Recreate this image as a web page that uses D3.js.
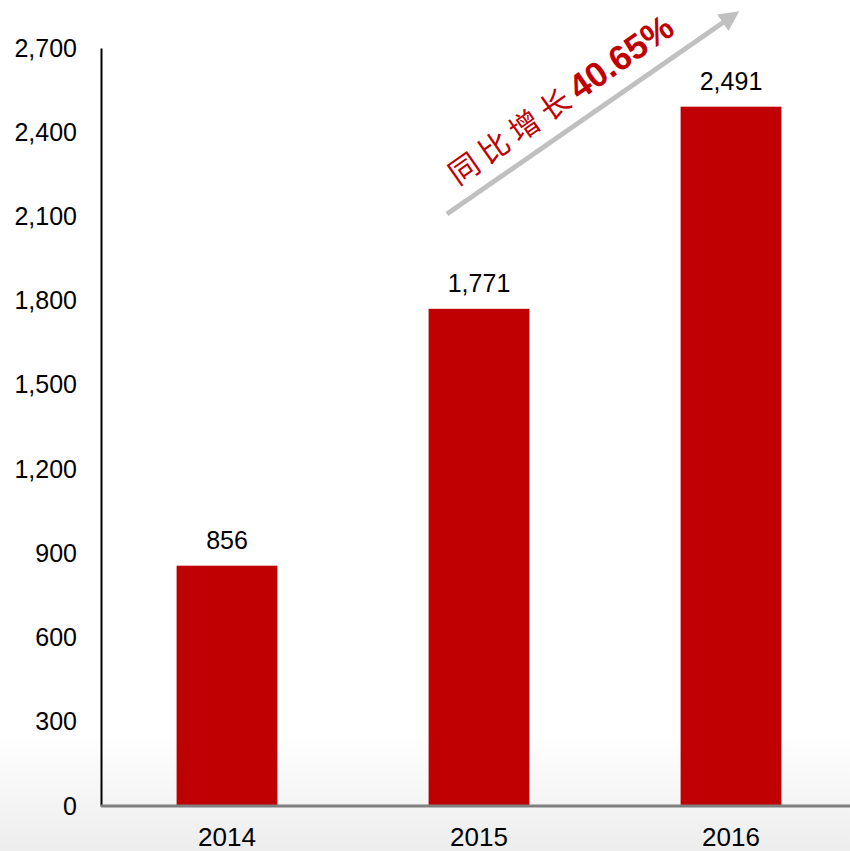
<!DOCTYPE html>
<html><head><meta charset="utf-8">
<script src="https://cdn.jsdelivr.net/npm/d3@7"></script>
<style>html,body{margin:0;padding:0;background:#fff;}svg{display:block;}</style>
</head><body>
<svg id="chart" width="850" height="851"></svg>
<script>
const categories = ["2014", "2015", "2016"];
const values = [856, 1771, 2491];
const yTicks = [0, 300, 600, 900, 1200, 1500, 1800, 2100, 2400, 2700];
const annotationCn = "同比增长";
const annotationNum = "40.65%";

const svg = d3.select("#chart");
const W = 850, H = 851;
const defs = svg.append("defs");
const grad = defs.append("linearGradient").attr("id","bg").attr("x1",0).attr("x2",0).attr("y1",0).attr("y2",1);
grad.append("stop").attr("offset","0%").attr("stop-color","#ffffff");
grad.append("stop").attr("offset","86%").attr("stop-color","#ffffff");
grad.append("stop").attr("offset","100%").attr("stop-color","#ededed");
svg.append("rect").attr("width",W).attr("height",H).attr("fill","url(#bg)");

const x0 = 101, y0 = 806, yTop = 48;
const y = d3.scaleLinear().domain([0, 2700]).range([y0, yTop]);
const x = d3.scaleBand().domain(categories).range([x0, x0 + 756]).paddingInner(0.6).paddingOuter(0.3);

const font = "'Liberation Sans', Arial, sans-serif";

// bars
svg.append("g").selectAll("rect").data(values).join("rect")
  .attr("x", (d,i) => x(categories[i]))
  .attr("y", d => y(d))
  .attr("width", x.bandwidth())
  .attr("height", d => y0 - y(d))
  .attr("fill", "#c00000");

// value labels
svg.append("g").selectAll("text").data(values).join("text")
  .attr("x", (d,i) => x(categories[i]) + x.bandwidth()/2)
  .attr("y", d => y(d) - 17)
  .attr("text-anchor","middle")
  .attr("font-family", font).attr("font-size", 25).attr("fill","#000")
  .text(d => d3.format(",")(d));

// y axis
const yAxis = d3.axisLeft(y).tickValues(yTicks).tickFormat(d3.format(",")).tickSize(0).tickPadding(24);
const gy = svg.append("g").attr("transform", `translate(${x0},0)`).call(yAxis);
gy.select(".domain").attr("stroke","#000").attr("stroke-width",2);
gy.selectAll("text").attr("font-family", font).attr("font-size", 25).attr("fill","#000");

// x axis
const xAxis = d3.axisBottom(x).tickSize(0).tickPadding(18);
const gx = svg.append("g").attr("transform", `translate(0,${y0})`).call(xAxis);
gx.select(".domain").remove();
gx.append("line").attr("x1", x0).attr("x2", W).attr("y1", 0).attr("y2", 0).attr("stroke","#7f7f7f").attr("stroke-width",3);
gx.selectAll(".tick text").attr("font-family", font).attr("font-size", 26).attr("fill","#000")
  .attr("y", 40).attr("dy", 0);

// arrow annotation
defs.append("marker").attr("id","arr").attr("viewBox","0 0 10 10").attr("refX",5).attr("refY",5)
  .attr("markerWidth",4).attr("markerHeight",4).attr("orient","auto")
  .append("path").attr("d","M0,0 L10,5 L0,10 Z").attr("fill","#c0c0c0");
svg.append("line").attr("x1",447).attr("y1",214).attr("x2",731).attr("y2",17)
  .attr("stroke","#c0c0c0").attr("stroke-width",5).attr("marker-end","url(#arr)");

const t = svg.append("text").attr("transform","translate(458,186) rotate(-35)")
  .attr("fill","#c00000");
t.append("tspan").attr("font-family","'Noto Sans CJK SC', sans-serif").attr("font-size",30)
  .attr("letter-spacing", 7).text(annotationCn);
t.append("tspan").attr("font-family", font).attr("font-weight","bold").attr("font-size",35)
  .text(annotationNum);
</script>
</body></html>
